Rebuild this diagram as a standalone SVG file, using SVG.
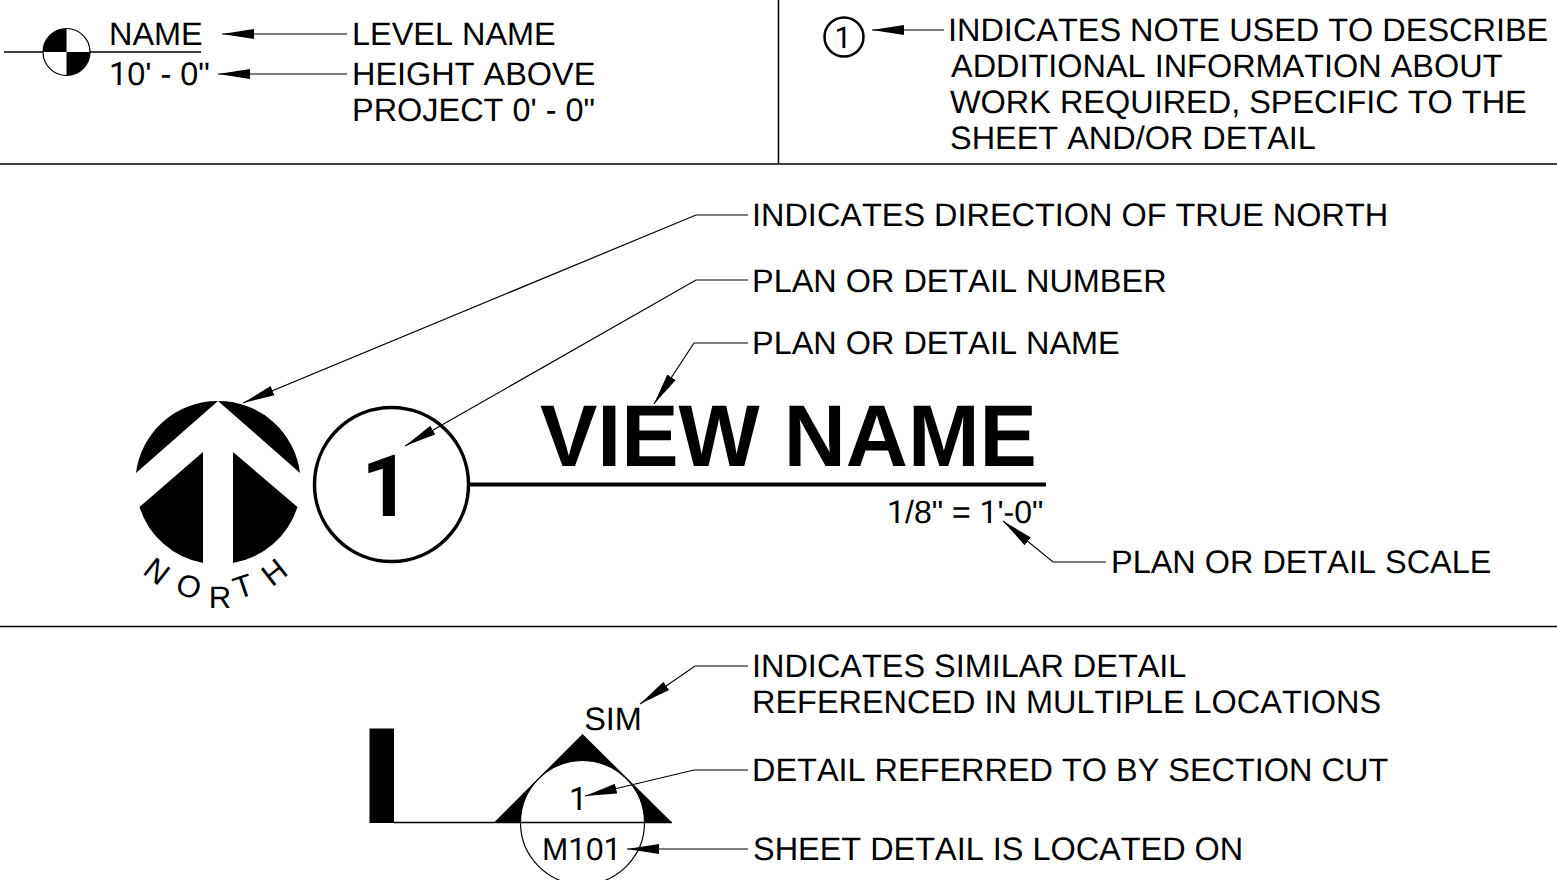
<svg xmlns="http://www.w3.org/2000/svg" width="1557" height="880" viewBox="0 0 1557 880">
<style>
text{font-family:"Liberation Sans",Arial,sans-serif;font-size:32.450px;fill:#000;font-kerning:none;text-rendering:geometricPrecision}
.b{font-weight:700}
.r{font-family:Roboto,"Liberation Sans",sans-serif}
.n{font-size:31px;text-anchor:middle}
.l{fill:none;stroke:#000;stroke-width:1.2}
.d{fill:none;stroke:#000;stroke-width:1.5}
.f{fill:#000;stroke:none}
</style>
<defs>
<marker id="a" markerUnits="userSpaceOnUse" markerWidth="34" markerHeight="14" refX="32" refY="6" orient="auto"><path d="M0 1L32 6L0 11Z" fill="#000"/></marker>
</defs>
<rect width="1557" height="880" fill="#fff"/>
<g id="dividers">
<path class="d" d="M0 164H1557M778.500 0V164M0 626.500H1557"/>
</g>
<g id="level-symbol">
<path class="d" d="M4 52H201"/>
<circle cx="66.500" cy="52" r="23.500" fill="#fff" stroke="#000" stroke-width="1.200"/>
<path class="f" d="M66.500 52V28.500A23.500 23.500 0 0 0 43 52ZM66.500 52V75.500A23.500 23.500 0 0 0 90 52Z"/>
<text x="109" y="45">NAME</text>
<text x="109" y="85"><tspan class="r">1</tspan>0' - 0"</text>
<text x="352" y="45">LEVEL NAME</text>
<text x="352" y="85">HEIGHT ABOVE</text>
<text x="352" y="121">PROJECT 0' - 0"</text>
</g>
<g id="note-symbol">
<circle cx="844" cy="37" r="19.500" fill="none" stroke="#000" stroke-width="2.500"/>
<text class="r" x="843" y="48" text-anchor="middle" style="font-size:30px">1</text>
<text x="948" y="41">INDICATES NOTE USED TO DESCRIBE</text>
<text x="951" y="77">ADDITIONAL INFORMATION ABOUT</text>
<text x="950" y="113">WORK REQUIRED, SPECIFIC TO THE</text>
<text x="950" y="149">SHEET AND/OR DETAIL</text>
</g>
<g id="north-arrow">
<path class="f" d="M218 401L136 473A82 82 0 0 1 218 401ZM218 401L300 473A82 82 0 0 0 218 401Z"/>
<path class="f" d="M203 452L139.500 507A82 82 0 0 0 203 563ZM233 452L297.500 507A82 82 0 0 1 233 563Z"/>
<text class="n" transform="translate(157 571) rotate(38)" y="11">N</text>
<text class="n" transform="translate(189 586) rotate(19)" y="11">O</text>
<text class="n" transform="translate(220 597)" y="11">R</text>
<text class="n" transform="translate(243 586) rotate(-19)" y="11">T</text>
<text class="n" transform="translate(274 572) rotate(-38)" y="11">H</text>
</g>
<g id="view-title">
<circle cx="391.500" cy="484.500" r="77" fill="#fff" stroke="#000" stroke-width="3.500"/>
<path d="M469 484.500H1046" fill="none" stroke="#000" stroke-width="4"/>
<text class="b r" x="386" y="516" text-anchor="middle" style="font-size:86px">1</text>
<text class="b" transform="translate(540 466) scale(1 1.02)" style="font-size:86px">VIEW NAME</text>
<text x="887" y="523" style="font-size:32px"><tspan class="r">1</tspan>/8" = <tspan class="r">1</tspan>'-0"</text>
</g>
<g id="leader-labels">
<text x="752" y="226">INDICATES DIRECTION OF TRUE NORTH</text>
<text x="752" y="292">PLAN OR DETAIL NUMBER</text>
<text x="752" y="354">PLAN OR DETAIL NAME</text>
<text x="1111" y="573">PLAN OR DETAIL SCALE</text>
</g>
<g id="section-symbol">
<rect class="f" x="369.500" y="728.500" width="24.500" height="94.500"/>
<path class="f" d="M494 822.500L582.500 734L672 822.500H644.500A62 62 0 0 0 520.500 822.500Z"/>
<path class="d" d="M394 822.500H672"/>
<circle cx="582.500" cy="822.500" r="62" fill="none" stroke="#000" stroke-width="1.200"/>
<text x="613" y="730" text-anchor="middle">SIM</text>
<text class="r" x="578" y="810" text-anchor="middle">1</text>
<text x="542" y="860" style="font-size:31.500px">M<tspan class="r">1</tspan>0<tspan class="r">1</tspan></text>
<text x="752" y="677">INDICATES SIMILAR DETAIL</text>
<text x="752" y="713">REFERENCED IN MULTIPLE LOCATIONS</text>
<text x="752" y="781">DETAIL REFERRED TO BY SECTION CUT</text>
<text x="753" y="860">SHEET DETAIL IS LOCATED ON</text>
</g>
<g id="connectors">
<path class="l" marker-end="url(#a)" d="M347 34H222"/>
<path class="l" marker-end="url(#a)" d="M347 74H218"/>
<path class="l" marker-end="url(#a)" d="M944 30H872"/>
<path class="l" marker-end="url(#a)" d="M748 215H696L243 403"/>
<path class="l" marker-end="url(#a)" d="M748 280H696L405 446"/>
<path class="l" marker-end="url(#a)" d="M748 343H694L654 404"/>
<path class="l" marker-end="url(#a)" d="M1106 562H1053L1003 521"/>
<path class="l" marker-end="url(#a)" d="M748 666H695L640 704"/>
<path class="l" marker-end="url(#a)" d="M748 770H694L585 796"/>
<path class="l" marker-end="url(#a)" d="M748 849H627"/>
</g>
</svg>
